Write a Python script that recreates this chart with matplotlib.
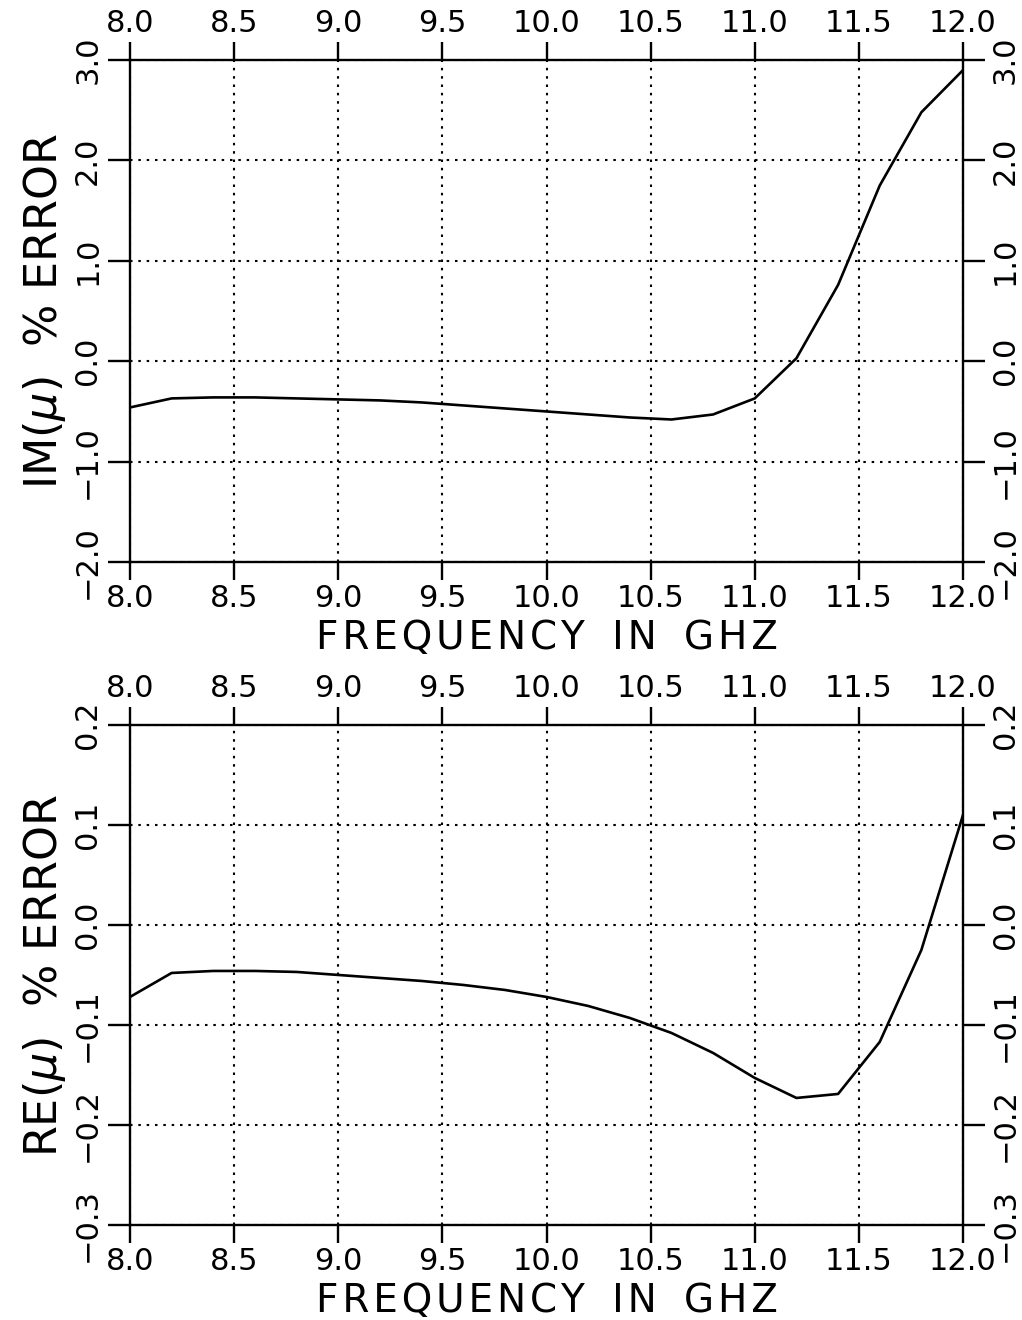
import matplotlib

matplotlib.use("Agg")
import matplotlib.pyplot as plt
import numpy as np
from matplotlib.ticker import FuncFormatter, MultipleLocator

# frequency grid (GHz), sampled every 0.2 GHz
freq = np.round(np.arange(8.0, 12.01, 0.2), 1)

# imaginary part of mu, percent error
im_err = [-0.46, -0.37, -0.36, -0.36, -0.37, -0.38, -0.39, -0.41, -0.44, -0.47,
          -0.50, -0.53, -0.56, -0.58, -0.53, -0.37, 0.03, 0.76, 1.75, 2.48, 2.90]

# real part of mu, percent error
re_err = [-0.072, -0.048, -0.046, -0.046, -0.047, -0.050, -0.053, -0.056, -0.060,
          -0.065, -0.072, -0.081, -0.093, -0.108, -0.128, -0.153, -0.173, -0.169,
          -0.117, -0.025, 0.110]

x_ticks = [8.0, 8.5, 9.0, 9.5, 10.0, 10.5, 11.0, 11.5, 12.0]

LW = 1.7
TICK_FS = 22
LABEL_FS = 28


def one_decimal(v, _pos):
    s = f"{v:.1f}"
    if s == "-0.0":
        s = "0.0"
    return s.replace("-", "\u2212")


def spaced(text):
    # open letter spacing, wider gaps between words
    words = ["\u200a".join(w) for w in text.split()]
    return "\u2002\u2009".join(words)


def style_axis(ax, ylim, ystep, ylabel):
    ax.set_xlim(8.0, 12.0)
    ax.set_ylim(*ylim)
    ax.set_xticks(x_ticks)
    ax.xaxis.set_major_formatter(FuncFormatter(one_decimal))
    ax.yaxis.set_major_locator(MultipleLocator(ystep))
    ax.yaxis.set_major_formatter(FuncFormatter(one_decimal))
    ax.grid(True, color="black", linestyle=(0, (1.2, 2.8)), linewidth=1.5)
    for s in ax.spines.values():
        s.set_linewidth(LW)
    ax.tick_params(axis="both", direction="out", width=LW, labelsize=TICK_FS,
                   top=True, right=True, labeltop=True, labelright=True)
    ax.tick_params(axis="x", length=13, pad=3)
    ax.tick_params(axis="y", length=16, pad=4, labelrotation=90)
    for lab in ax.get_yticklabels():
        lab.set_verticalalignment("center")
    ax.set_xlabel(spaced("FREQUENCY IN GHZ"), fontsize=LABEL_FS, labelpad=4)
    ax.set_ylabel(ylabel, fontsize=LABEL_FS + 4, labelpad=4)


fig = plt.figure(figsize=(10.22, 13.2), dpi=100)
ax1 = fig.add_axes([0.1272, 0.5742, 0.8151, 0.3803])
ax2 = fig.add_axes([0.1272, 0.0720, 0.8151, 0.3788])

ax1.plot(freq, im_err, color="black", linewidth=1.9)
style_axis(ax1, (-2.0, 3.0), 1.0, r"IM($\mu$)  % ERROR")

ax2.plot(freq, re_err, color="black", linewidth=1.9)
style_axis(ax2, (-0.3, 0.2), 0.1, r"RE($\mu$)  % ERROR")

fig.savefig("out.png", dpi=100)
plt.close(fig)
